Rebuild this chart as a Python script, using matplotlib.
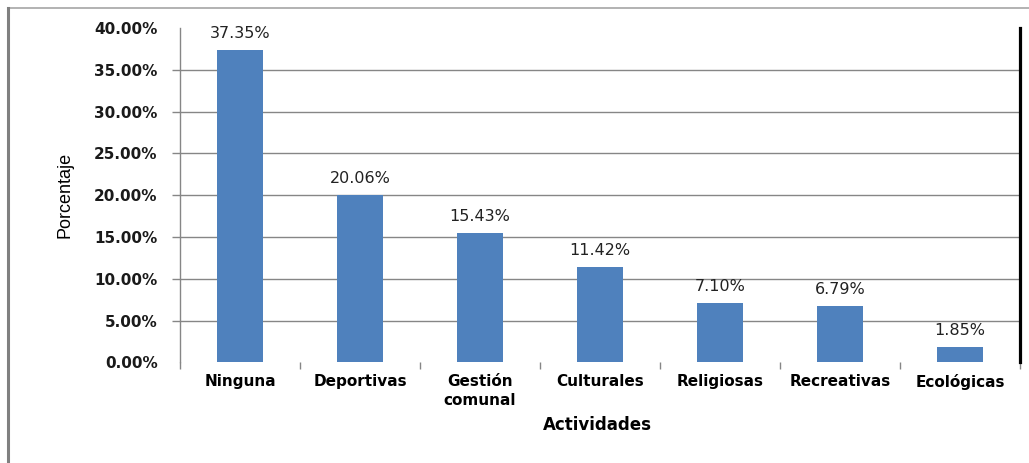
import numpy as np
import matplotlib.pyplot as plt
from matplotlib.lines import Line2D

actividades = ["Ninguna", "Deportivas", "Gestión\ncomunal", "Culturales",
               "Religiosas", "Recreativas", "Ecológicas"]
porcentaje = [37.35, 20.06, 15.43, 11.42, 7.10, 6.79, 1.85]
yticks = [0, 5, 10, 15, 20, 25, 30, 35, 40]

fig = plt.figure(figsize=(10.29, 4.63), dpi=100)
ax = fig.add_axes([0.1749, 0.2171, 0.8164, 0.7224])

x = np.arange(len(actividades))
ax.bar(x, porcentaje, width=0.39, color='#4F81BD', zorder=3)

for xi, v in zip(x, porcentaje):
    ax.annotate(f"{v:.2f}%", (xi, v), xytext=(0, 6.5), textcoords='offset points',
                ha='center', va='bottom', fontsize=11.5, color='#222222',
                family='DejaVu Sans')

ax.set_xlim(-0.5, len(actividades) - 0.5)
ax.set_ylim(0, 40)

# y axis: gray line, ticks outward, gridlines between 5 and 35
ax.set_yticks(yticks)
ax.set_yticklabels([f"{t:.2f}%" for t in yticks], fontsize=11, fontweight='bold',
                   family='DejaVu Sans', color='#1a1a1a')
ax.yaxis.grid(True, color='#868686', lw=1.0, zorder=0)
ax.get_ygridlines()[0].set_visible(False)
ax.get_ygridlines()[-1].set_visible(False)
ax.tick_params(axis='y', direction='out', length=6, width=1, color='#868686', pad=10)
ax.yaxis.get_major_ticks()[0].tick1line.set_visible(False)
ax.yaxis.get_major_ticks()[-1].tick1line.set_visible(False)

# category axis: tick marks at boundaries, labels centred under bars
ax.set_xticks(np.arange(len(actividades) + 1) - 0.5)
ax.set_xticklabels([])
ax.set_xticks(x, minor=True)
ax.set_xticklabels(actividades, minor=True, fontsize=11, fontweight='bold',
                   family='DejaVu Sans', linespacing=1.35)
ax.tick_params(axis='x', which='major', direction='out', length=5, width=1, color='#868686')
ax.tick_params(axis='x', which='minor', length=0, pad=8)

for s in ['top', 'bottom']:
    ax.spines[s].set_visible(False)
ax.spines['left'].set_color('#868686')
ax.spines['left'].set_linewidth(1)
ax.spines['right'].set_color('black')
ax.spines['right'].set_linewidth(2.3)

ax.set_ylabel("Porcentaje", fontsize=13, family='Liberation Sans', color='black',
              labelpad=15)
fig.text(0.581, 0.082, "Actividades", ha='center', va='center', fontsize=12,
         fontweight='bold', family='DejaVu Sans')

# outer frame lines
fig.add_artist(Line2D([8 / 1029, 1], [1 - 8 / 463, 1 - 8 / 463], color='#a6a6a6', lw=1.2))
fig.add_artist(Line2D([8 / 1029, 8 / 1029], [0, 1 - 8 / 463], color='#808080', lw=2.2))

plt.savefig('out.png', dpi=100)
